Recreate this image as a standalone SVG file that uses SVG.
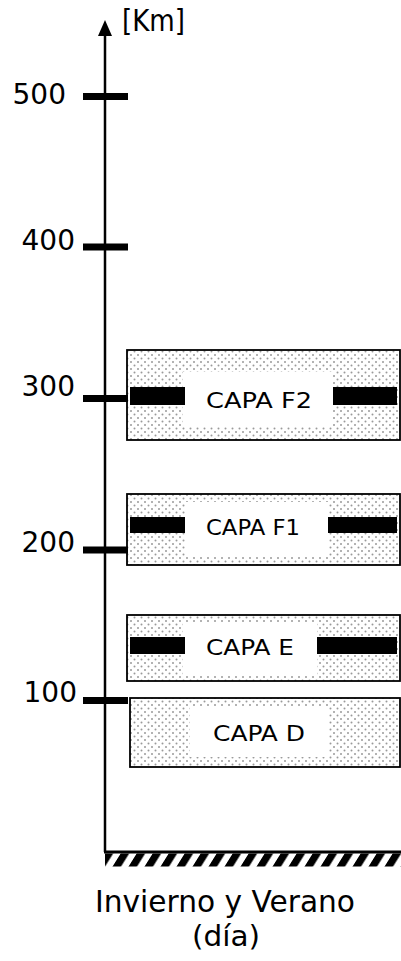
<svg xmlns="http://www.w3.org/2000/svg" width="401" height="961" viewBox="0 0 401 961">
<style>
.lbl{font-family:"DejaVu Sans","Liberation Sans",sans-serif;font-size:28px;fill:#000}
.big{font-family:"DejaVu Sans","Liberation Sans",sans-serif;font-size:30px;fill:#000}
.par{font-family:"DejaVu Sans","Liberation Sans",sans-serif;font-size:28px;fill:#000}
.cap{font-family:"DejaVu Sans","Liberation Sans",sans-serif;font-size:21px;fill:#000}
.layer{fill:url(#dots);stroke:#000;stroke-width:1.8}
.win{fill:#fff}
.bar{fill:#000}
.tick{fill:#000}
</style>
<defs>
<pattern id="dots" width="7" height="7" patternUnits="userSpaceOnUse">
<rect width="7" height="7" fill="#fff"/>
<circle cx="1.5" cy="1.5" r="1" fill="#9a9a9a"/>
<circle cx="5" cy="5" r="1" fill="#9a9a9a"/>
</pattern>
<pattern id="hatch" width="16" height="14" patternUnits="userSpaceOnUse" patternTransform="translate(105 853) skewX(-32)">
<rect x="0" y="0" width="8.5" height="14" fill="#000"/>
</pattern>
</defs>
<g id="connectors">
<line x1="105" y1="32" x2="105" y2="852" stroke="#000" stroke-width="2.5"/>
<polygon points="105,20 98,36 112,36" fill="#000"/>
<line x1="104" y1="852" x2="401" y2="852" stroke="#000" stroke-width="3"/>
<rect x="105" y="853.5" width="296" height="13" fill="url(#hatch)"/>
</g>
<g id="unit"><text class="big" x="122" y="31" textLength="63" lengthAdjust="spacingAndGlyphs">[Km]</text></g>
<g id="tick500"><rect class="tick" x="83" y="93" width="45" height="7"/><text class="lbl" x="66" y="104" text-anchor="end">500</text></g>
<g id="tick400"><rect class="tick" x="83" y="243.5" width="45" height="7"/><text class="lbl" x="75" y="250" text-anchor="end">400</text></g>
<g id="layerF2">
<rect class="layer" x="127" y="350" width="273" height="90"/>
<rect class="win" x="183" y="372" width="150" height="55"/>
<rect class="bar" x="130" y="387" width="55" height="18"/>
<rect class="bar" x="333" y="387" width="64" height="18"/>
<text class="cap" x="206" y="408" textLength="106" lengthAdjust="spacingAndGlyphs">CAPA F2</text>
</g>
<g id="tick300"><rect class="tick" x="83" y="395" width="45" height="7"/><text class="lbl" x="75" y="396" text-anchor="end">300</text></g>
<g id="layerF1">
<rect class="layer" x="127" y="494" width="273" height="71"/>
<rect class="win" x="185" y="502" width="143" height="54"/>
<rect class="bar" x="130" y="517" width="55" height="16"/>
<rect class="bar" x="328" y="517" width="69" height="16"/>
<text class="cap" x="206" y="535" textLength="94" lengthAdjust="spacingAndGlyphs">CAPA F1</text>
</g>
<g id="tick200"><rect class="tick" x="83" y="546.5" width="45" height="7"/><text class="lbl" x="75" y="552" text-anchor="end">200</text></g>
<g id="layerE">
<rect class="layer" x="127" y="615" width="273" height="66"/>
<rect class="win" x="183" y="623" width="134" height="52"/>
<rect class="bar" x="130" y="637" width="55" height="17"/>
<rect class="bar" x="317" y="637" width="80" height="17"/>
<text class="cap" x="206" y="655" textLength="88" lengthAdjust="spacingAndGlyphs">CAPA E</text>
</g>
<g id="layerD">
<rect class="layer" x="130" y="698" width="270" height="69"/>
<rect class="win" x="190" y="707" width="138" height="50"/>
<text class="cap" x="213" y="741" textLength="92" lengthAdjust="spacingAndGlyphs">CAPA D</text>
</g>
<g id="tick100"><rect class="tick" x="83" y="697" width="45" height="7"/><text class="lbl" x="77" y="702" text-anchor="end">100</text></g>
<g id="caption">
<text class="big" x="95" y="912" textLength="260" lengthAdjust="spacingAndGlyphs">Invierno y Verano</text>
<text class="par" x="192" y="946" textLength="68" lengthAdjust="spacingAndGlyphs">(día)</text>
</g>
</svg>
